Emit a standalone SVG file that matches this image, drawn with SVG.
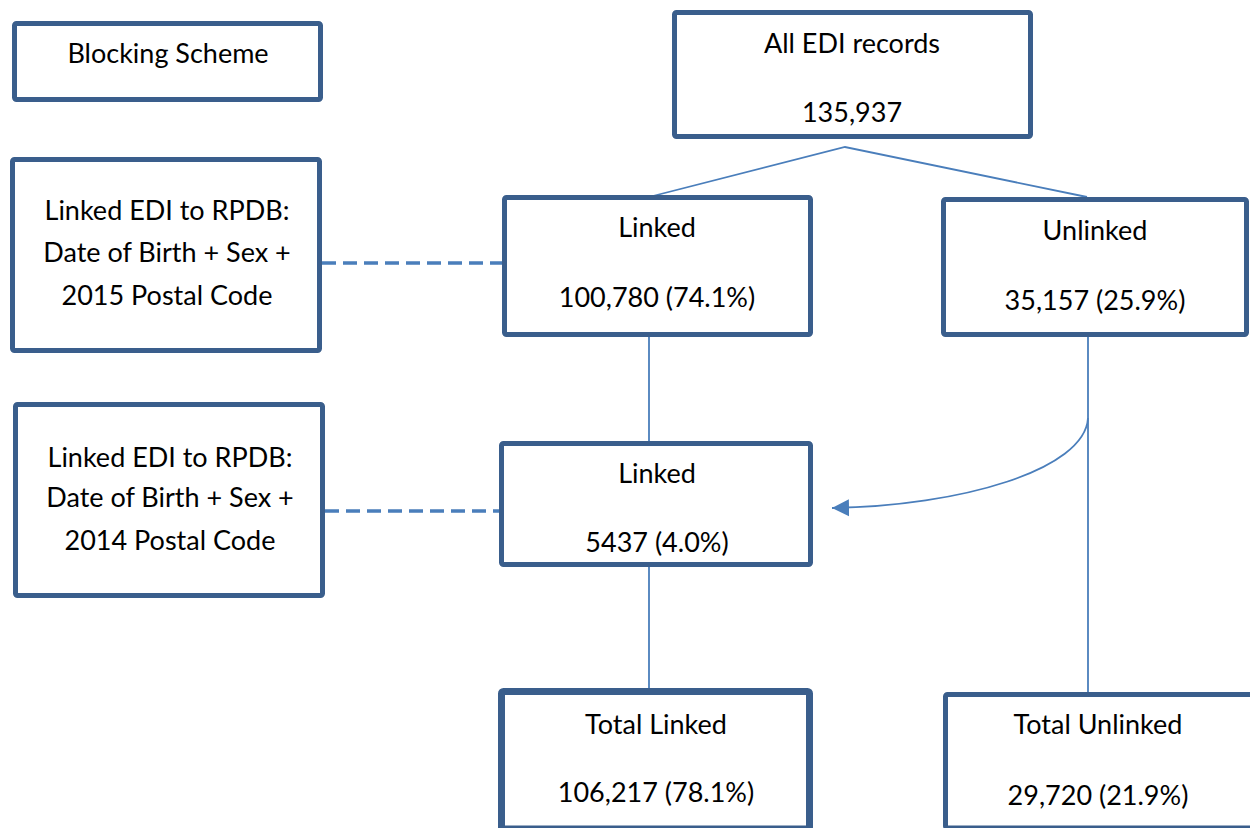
<svg xmlns="http://www.w3.org/2000/svg" width="1250" height="828" viewBox="0 0 1250 828">
<style>
.box{fill:#fff;stroke:#3A5E8C;stroke-width:5;stroke-linejoin:round}
.thick{stroke-width:7}
.t{font-family:Lato,"Liberation Sans",sans-serif;font-size:27px;fill:#000;text-anchor:middle}
.c{fill:none;stroke:#4A7EBB;stroke-width:1.8}
.d{fill:none;stroke:#4A7EBB;stroke-width:3.4;stroke-dasharray:14 7}
</style>
<defs>
<marker id="ah" markerWidth="18" markerHeight="18" viewBox="0 0 18 18" refX="17" refY="9" orient="auto" markerUnits="userSpaceOnUse">
<path d="M0,0.5 L17,9 L0,17.5 Z" fill="#4A7EBB"/>
</marker>
</defs>
<g id="connectors">
<path class="c" d="M649,197 L845,147 L1087,197"/>
<path class="c" d="M649,337 V441"/>
<path class="c" d="M649,567 V688"/>
<path class="c" d="M1088,322 V692"/>
<path class="c" d="M1088,418 C1085,470 960,506 832,508" marker-end="url(#ah)"/>
<path class="d" d="M322,263 H502"/>
<path class="d" d="M325,511 H500"/>
</g>
<g id="blocking">
<rect class="box" x="14.5" y="23.5" width="306" height="76" rx="2"/>
<text class="t" x="168" y="63">Blocking Scheme</text>
</g>
<g id="all-edi">
<rect class="box" x="674.5" y="12.5" width="356" height="124" rx="2"/>
<text class="t" x="852" y="53">All EDI records</text>
<text class="t" x="852" y="122">135,937</text>
</g>
<g id="scheme-2015">
<rect class="box" x="12.5" y="159.5" width="307" height="191" rx="2"/>
<text class="t" x="167" y="220">Linked EDI to RPDB:</text>
<text class="t" x="167" y="262">Date of Birth + Sex +</text>
<text class="t" x="167" y="305">2015 Postal Code</text>
</g>
<g id="scheme-2014">
<rect class="box" x="15.5" y="404.5" width="307" height="191" rx="2"/>
<text class="t" x="170" y="467">Linked EDI to RPDB:</text>
<text class="t" x="170" y="507">Date of Birth + Sex +</text>
<text class="t" x="170" y="550">2014 Postal Code</text>
</g>
<g id="linked-1">
<rect class="box" x="504.5" y="197.5" width="306" height="137" rx="2"/>
<text class="t" x="657" y="237">Linked</text>
<text class="t" x="657" y="307">100,780 (74.1%)</text>
</g>
<g id="unlinked">
<rect class="box" x="943.5" y="199.5" width="303" height="135" rx="2"/>
<text class="t" x="1095" y="240">Unlinked</text>
<text class="t" x="1095" y="310">35,157 (25.9%)</text>
</g>
<g id="linked-2">
<rect class="box" x="501.5" y="443.5" width="309" height="121" rx="2"/>
<text class="t" x="657" y="483">Linked</text>
<text class="t" x="657" y="552">5437 (4.0%)</text>
</g>
<g id="total-linked">
<rect class="box thick" x="501.5" y="691.5" width="308" height="137.5" rx="2"/>
<text class="t" x="656" y="734">Total Linked</text>
<text class="t" x="656" y="802">106,217 (78.1%)</text>
</g>
<g id="total-unlinked">
<rect class="box" x="945.5" y="694.5" width="310" height="133.5" rx="2"/>
<text class="t" x="1098" y="734">Total Unlinked</text>
<text class="t" x="1098" y="805">29,720 (21.9%)</text>
</g>
</svg>
